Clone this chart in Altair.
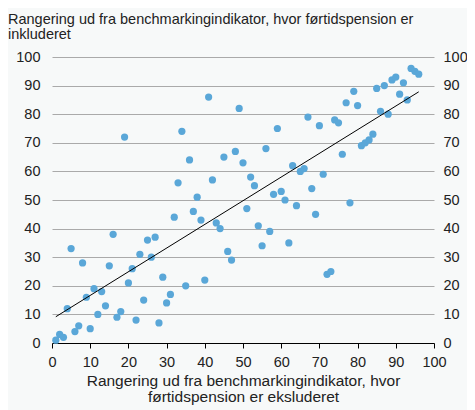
import altair as alt
import pandas as pd

# Rank excluding førtidspension (x) vs rank including (y)
rank_excl = list(range(1, 97))
rank_incl = [1, 3, 2, 12, 33, 4, 6, 28, 16, 5,
             19, 10, 18, 13, 27, 38, 9, 11, 72, 21,
             26, 8, 31, 15, 36, 30, 37, 7, 23, 14,
             17, 44, 56, 74, 20, 64, 46, 51, 43, 22,
             86, 57, 42, 40, 65, 32, 29, 67, 82, 63,
             47, 58, 55, 41, 34, 68, 39, 52, 75, 53,
             50, 35, 62, 48, 60, 61, 79, 54, 45, 76,
             59, 24, 25, 78, 77, 66, 84, 49, 88, 83,
             69, 70, 71, 73, 89, 81, 90, 80, 92, 93,
             87, 91, 85, 96, 95, 94]
tick_values = list(range(0, 101, 10))

title_lines = ["Rangering ud fra benchmarkingindikator, hvor førtidspension er",
               "inkluderet"]
x_title = ["Rangering ud fra benchmarkingindikator, hvor",
           "førtidspension er eksluderet"]

df = pd.DataFrame({"x": rank_excl, "y": rank_incl})

FONT = "Liberation Sans"
TXT = "#222222"
LBL = 14.5

x_enc = alt.X("x:Q", scale=alt.Scale(domain=[0, 100], nice=False),
              axis=alt.Axis(values=tick_values, grid=False, domainColor="black",
                            tickColor="black", tickSize=5, labelFontSize=LBL,
                            labelColor=TXT, labelFont=FONT, labelPadding=7,
                            labelFlush=False,
                            title=x_title, titleFontSize=15.5, titleFont=FONT,
                            titleFontWeight="normal", titleColor=TXT,
                            titleLineHeight=16, titlePadding=5))

y_scale = alt.Scale(domain=[0, 100], nice=False)

points = alt.Chart(df).mark_circle(size=52, color="#5aa7d8", opacity=1).encode(
    x=x_enc,
    y=alt.Y("y:Q", scale=y_scale,
            axis=alt.Axis(values=tick_values, grid=True, gridColor="#aaaaaa",
                          gridWidth=1, domain=False, ticks=False, labelFontSize=LBL,
                          labelColor=TXT, labelFont=FONT, labelPadding=12, title=None,
                          labelFlush=False, orient="left")),
)

reg = alt.Chart(df).transform_regression("x", "y").mark_line(
    color="black", strokeWidth=1).encode(
    x=x_enc,
    y=alt.Y("y:Q", scale=y_scale,
            axis=alt.Axis(values=tick_values, grid=False, domain=False, ticks=False,
                          labelFontSize=LBL, labelColor=TXT, labelFont=FONT,
                          labelPadding=9, title=None, labelFlush=False,
                          orient="right")),
)

chart = alt.layer(points, reg).resolve_axis(y="independent").properties(
    width=382, height=286,
    autosize=alt.AutoSizeParams(type="none"),
    padding={"left": 44, "top": 49, "right": 33, "bottom": 67},
    background="#f7f9f9",
    title=alt.TitleParams(text=title_lines, anchor="start", frame="group", dx=-44,
                          fontSize=14.5, fontWeight="normal", color=TXT, font=FONT,
                          lineHeight=15, offset=7),
).configure_view(stroke=None)

chart.save("out.html", embed_options={"renderer": "svg", "actions": False})
